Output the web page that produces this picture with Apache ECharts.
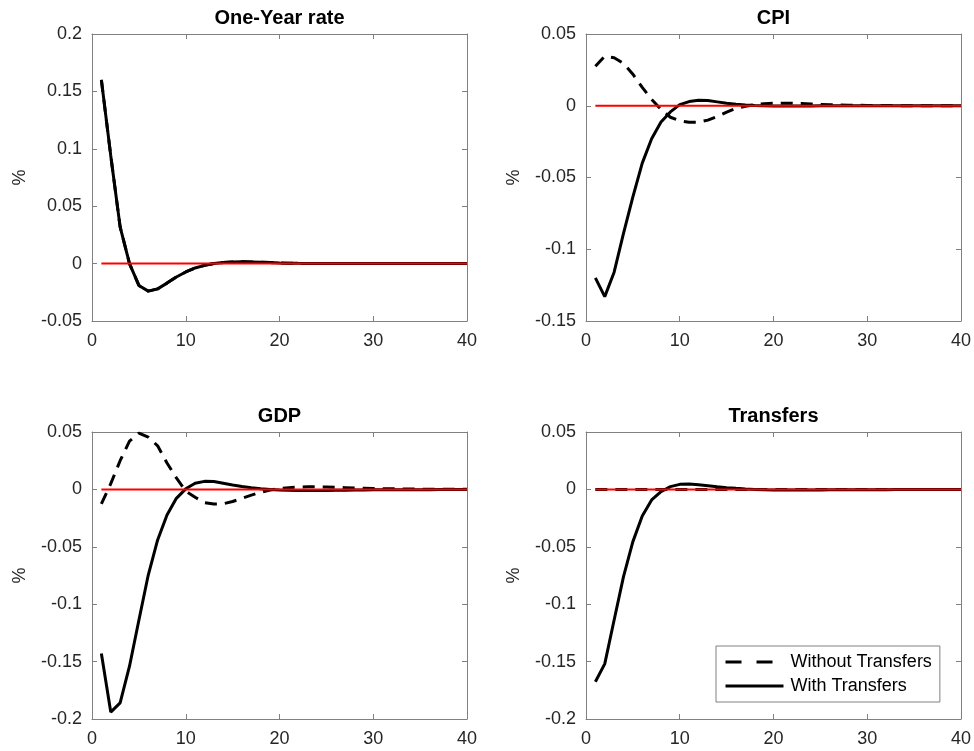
<!DOCTYPE html>
<html>
<head>
<meta charset="utf-8">
<style>
html,body{margin:0;padding:0;background:#fff;}
#chart{width:974px;height:751px;}
</style>
<script src="https://cdn.jsdelivr.net/npm/echarts@6/dist/echarts.min.js"></script>
</head>
<body>
<div id="chart"></div>
<script>
// ---- data ----
const periods = [1,2,3,4,5,6,7,8,9,10,11,12,13,14,15,16,17,18,19,20,21,22,23,24,25,26,27,28,29,30,31,32,33,34,35,36,37,38,39,40];

const panelTitles = ['One-Year rate', 'CPI', 'GDP', 'Transfers'];
const seriesNames = ['Without Transfers', 'With Transfers'];

const yMin = [-0.05, -0.15, -0.2, -0.2];
const yMax = [0.2, 0.05, 0.05, 0.05];
const xTicks = [0, 10, 20, 30, 40];

const rateWithout = [0.160,0.094,0.032,0.000,-0.019,-0.024,-0.022,-0.017,-0.0117,-0.0073,-0.0038,-0.0015,0.0000,0.0010,0.0015,0.0016,0.0015,0.0012,0.0009,0.0006,0.0004,0.0002,0.0001,0,0,0,0,0,0,0,0,0,0,0,0,0,0,0,0,0];
const rateWith    = [0.160,0.094,0.032,0.000,-0.019,-0.024,-0.022,-0.017,-0.0117,-0.0073,-0.0038,-0.0015,0.0000,0.0010,0.0015,0.0016,0.0015,0.0012,0.0009,0.0006,0.0004,0.0002,0.0001,0,0,0,0,0,0,0,0,0,0,0,0,0,0,0,0,0];

const cpiWithout = [0.0275,0.0345,0.0335,0.0295,0.022,0.0128,0.0045,-0.0025,-0.008,-0.0105,-0.0115,-0.0115,-0.010,-0.0075,-0.0045,-0.0018,-0.0003,0.0007,0.0014,0.0017,0.0018,0.0017,0.0015,0.0012,0.0009,0.0007,0.0005,0.0004,0.0003,0.0002,0.0001,0.0001,0.0001,0,0,0,0,0,0,0];
const cpiWith    = [-0.120,-0.133,-0.116,-0.089,-0.0635,-0.040,-0.023,-0.0113,-0.0043,0.0008,0.0029,0.0038,0.0036,0.0027,0.0018,0.0011,0.0005,0.0002,0.0000,-0.0001,-0.0001,-0.0001,-0.0001,-0.0001,0,0,0,0,0,0,0,0,0,0,0,0,0,0,0,0];

const gdpWithout = [-0.0127,0.005,0.025,0.042,0.049,0.0455,0.038,0.023,0.010,-0.0015,-0.0068,-0.0115,-0.0127,-0.0125,-0.0105,-0.0078,-0.005,-0.0025,-0.0005,0.0008,0.0015,0.002,0.0022,0.0022,0.002,0.0018,0.0015,0.0012,0.001,0.0008,0.0006,0.0005,0.0004,0.0003,0.0002,0.0002,0.0001,0.0001,0.0001,0.0001];
const gdpWith    = [-0.143,-0.194,-0.186,-0.154,-0.114,-0.0746,-0.044,-0.0223,-0.0078,0.0005,0.0053,0.007,0.0068,0.0053,0.0038,0.0026,0.0015,0.0006,0.0000,-0.0005,-0.0008,-0.001,-0.001,-0.001,-0.0009,-0.0008,-0.0007,-0.0006,-0.0005,-0.0004,-0.0004,-0.0003,-0.0003,-0.0002,-0.0002,-0.0002,-0.0001,-0.0001,-0.0001,-0.0001];

const transfersWithout = [0,0,0,0,0,0,0,0,0,0,0,0,0,0,0,0,0,0,0,0,0,0,0,0,0,0,0,0,0,0,0,0,0,0,0,0,0,0,0,0];
const transfersWith    = [-0.1675,-0.152,-0.1138,-0.076,-0.0455,-0.0232,-0.0092,-0.002,0.0024,0.0044,0.0047,0.0041,0.0032,0.0023,0.0015,0.0009,0.0004,0.0000,-0.0003,-0.0005,-0.0006,-0.0006,-0.0006,-0.0005,-0.0005,-0.0004,-0.0004,-0.0003,-0.0003,-0.0002,-0.0002,-0.0002,-0.0001,-0.0001,-0.0001,-0.0001,-0.0001,0,0,0];

const zeroLine = [0,0,0,0,0,0,0,0,0,0,0,0,0,0,0,0,0,0,0,0,0,0,0,0,0,0,0,0,0,0,0,0,0,0,0,0,0,0,0,0];

const panelWithout = [rateWithout, cpiWithout, gdpWithout, transfersWithout];
const panelWith = [rateWith, cpiWith, gdpWith, transfersWith];

// ---- layout ----
const gridPos = [
  {left: 92, top: 34},
  {left: 586, top: 34},
  {left: 92, top: 432},
  {left: 586, top: 432}
];
const FONT = "'Liberation Sans', Arial, Helvetica, sans-serif";
const boxColor = '#808080';
const labelColor = '#262626';

function pairs(ys){ return periods.map((t,i)=>[t, ys[i]]); }
function fmtY(v){ return String(Math.round(v*1000)/1000); }

const grid = [], xAxis = [], yAxis = [], series = [];
for (let i = 0; i < 4; i++) {
  grid.push({left: gridPos[i].left, top: gridPos[i].top, width: 375, height: 287, containLabel: false});
  const axLine = {show: true, onZero: false, lineStyle: {color: boxColor, width: 1}};
  const tick = {show: true, inside: true, length: 5, lineStyle: {color: boxColor, width: 1}};
  // bottom x
  xAxis.push({type: 'value', gridIndex: i, min: xTicks[0], max: xTicks[xTicks.length-1], interval: 10, position: 'bottom',
    axisLine: axLine, axisTick: tick, splitLine: {show: false},
    axisLabel: {margin: 11, fontSize: 18, color: labelColor, fontFamily: FONT}});
  // top mirror x with title
  xAxis.push({type: 'value', gridIndex: i, min: xTicks[0], max: xTicks[xTicks.length-1], interval: 10, position: 'top',
    axisLine: axLine, axisTick: tick, splitLine: {show: false}, axisLabel: {show: false},
    name: panelTitles[i], nameLocation: 'middle', nameGap: 6,
    nameTextStyle: {fontSize: 20, fontWeight: 'bold', color: '#000', fontFamily: FONT}});
  // left y
  yAxis.push({type: 'value', gridIndex: i, min: yMin[i], max: yMax[i], interval: 0.05, position: 'left',
    axisLine: axLine, axisTick: tick, splitLine: {show: false},
    axisLabel: {margin: 10, fontSize: 18, color: labelColor, fontFamily: FONT, formatter: fmtY},
    name: '%', nameLocation: 'middle', nameRotate: 90, nameGap: 63,
    nameTextStyle: {fontSize: 18, color: labelColor, fontFamily: FONT}});
  // right mirror y
  yAxis.push({type: 'value', gridIndex: i, min: yMin[i], max: yMax[i], interval: 0.05, position: 'right',
    axisLine: axLine, axisTick: tick, splitLine: {show: false}, axisLabel: {show: false}});

  series.push({type: 'line', name: seriesNames[0], xAxisIndex: 2*i, yAxisIndex: 2*i, data: pairs(panelWithout[i]),
    symbol: 'none', lineStyle: {color: '#000', width: 3, type: [12, 8]}, itemStyle: {color: '#000'}, z: 2});
  series.push({type: 'line', name: seriesNames[1], xAxisIndex: 2*i, yAxisIndex: 2*i, data: pairs(panelWith[i]),
    symbol: 'none', lineStyle: {color: '#000', width: 3, type: 'solid'}, itemStyle: {color: '#000'}, z: 3});
  series.push({type: 'line', name: 'zero', xAxisIndex: 2*i, yAxisIndex: 2*i, data: pairs(zeroLine),
    symbol: 'none', lineStyle: {color: '#ff0000', width: 2}, itemStyle: {color: '#ff0000'}, z: 4, silent: true});
}

const chart = echarts.init(document.getElementById('chart'), null, {renderer: 'canvas'});
chart.setOption({
  animation: false,
  backgroundColor: '#fff',
  grid, xAxis, yAxis, series,
  legend: {
    data: [
      {name: seriesNames[0], lineStyle: {type: [16, 15]}},
      {name: seriesNames[1]}
    ],
    orient: 'vertical',
    left: 716, top: 646,
    itemWidth: 58, itemHeight: 2, itemGap: 4,
    padding: [6, 8, 6, 8],
    backgroundColor: '#fff',
    borderColor: boxColor, borderWidth: 1, borderRadius: 0,
    lineStyle: {width: 3},
    itemStyle: {color: 'rgba(0,0,0,0)', borderWidth: 0, opacity: 0},
    textStyle: {fontSize: 18, color: '#000', fontFamily: FONT, padding: [0, 0, 0, 2], lineHeight: 20},
    selectedMode: false
  }
});
</script>
</body>
</html>
